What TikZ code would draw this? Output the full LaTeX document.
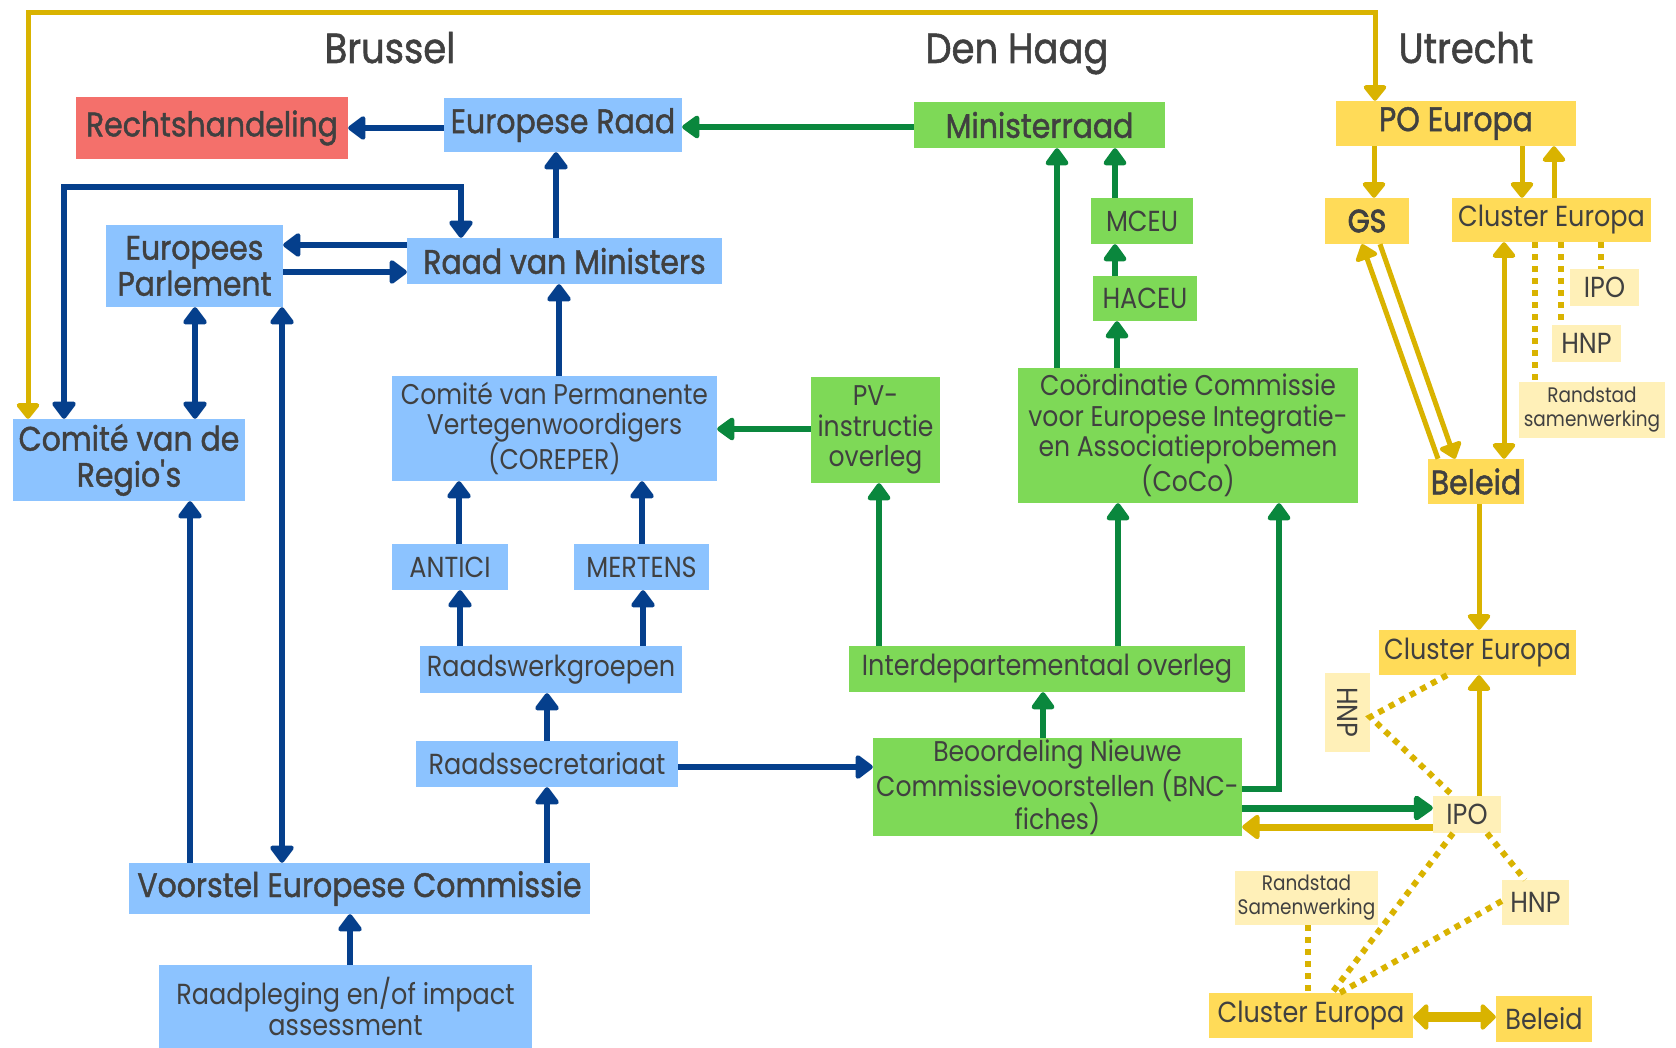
\documentclass[tikz,border=0pt]{standalone}
\usepackage{fontspec}
\setmainfont{Poppins}[FakeStretch=0.88]
\newfontfamily\medfont{Poppins}[FakeStretch=0.88,FakeBold=1.3]
\newfontfamily\gsfont{Poppins}[FakeStretch=0.88,FakeBold=2.6]
\usetikzlibrary{arrows.meta}
\definecolor{txt}{HTML}{404040}
\definecolor{bbox}{HTML}{8CC3FF}
\definecolor{rbox}{HTML}{F4706B}
\definecolor{gbox}{HTML}{7ED957}
\definecolor{ybox}{HTML}{FFDB58}
\definecolor{lybox}{HTML}{FFF0B8}
\definecolor{bline}{HTML}{053F8C}
\definecolor{gline}{HTML}{0A873D}
\definecolor{yline}{HTML}{D9B300}
\tikzset{
  bnds/.style args={#1,#2,#3,#4}{minimum width={(#2-#1)*1pt}, minimum height={(#4-#3)*1pt}, at={({(#1+#2)/2},{(#3+#4)/2})}},
  boxbase/.style={inner sep=0pt, align=center, text=txt, anchor=center},
  bluebox/.style={boxbase, fill=bbox},
  redbox/.style={boxbase, fill=rbox},
  greenbox/.style={boxbase, fill=gbox},
  yelbox/.style={boxbase, fill=ybox},
  lyelbox/.style={boxbase, fill=lybox},
  fL/.style={font=\medfont\fontsize{34}{36}\selectfont},
  fM/.style={font=\fontsize{29}{31}\selectfont},
  fS/.style={font=\fontsize{28.5}{30.5}\selectfont},
  fT/.style={font=\fontsize{21}{24}\selectfont},
  titletext/.style={inner sep=0pt, text=txt, anchor=base, font=\medfont\fontsize{42}{46}\selectfont},
  bt/.tip={Triangle[width=27pt,length=19pt,round]},
  gt/.tip={Triangle[width=26pt,length=19pt,round]},
  gtb/.tip={Triangle[width=28pt,length=21pt,round]},
  yt/.tip={Triangle[width=26pt,length=17pt,round]},
  ytb/.tip={Triangle[width=28pt,length=19pt,round]},
  ytc/.tip={Triangle[width=30pt,length=16pt,round]},
  bl/.style={draw=bline, line width=6pt},
  gl/.style={draw=gline, line width=5.5pt},
  yl/.style={draw=yline, line width=5pt},
  yd/.style={draw=yline, line width=6pt, dash pattern=on 6pt off 6pt},
}
\begin{document}
\begin{tikzpicture}[x=1pt,y=-1pt]
\fill[white] (0,0) rectangle (1676,1048);
\useasboundingbox (0,0) rectangle (1676,1048);

% titles
\node[titletext] (tbr) at (390,63) {Brussel};
\node[titletext] (tdh) at (1017,63) {Den Haag};
\node[titletext] (tut) at (1466,63) {Utrecht};

% Brussel
\node[redbox,fL,bnds={76,348,97,159}] (rech) {Rechtshandeling};
\node[bluebox,fL,bnds={444,682,98,152}] (eraad) {Europese Raad};
\node[bluebox,fL,bnds={106,283,225,307}] (ep) {Europees\\Parlement};
\node[bluebox,fL,bnds={407,722,238,284}] (rvm) {Raad van Ministers};
\node[bluebox,fL,bnds={13,245,419,501}] (cvdr) {Comité van de\\Regio\textquotesingle s};
\node[bluebox,fS,bnds={392,717,376,481}] (corep) {Comité van Permanente\\Vertegenwoordigers\\(COREPER)};
\node[bluebox,fM,bnds={392,508,544,590}] (antici) {ANTICI};
\node[bluebox,fM,bnds={574,709,544,590}] (mert) {MERTENS};
\node[bluebox,fM,bnds={420,682,646,693}] (rwg) {Raadswerkgroepen};
\node[bluebox,fM,bnds={416,678,741,787}] (rs) {Raadssecretariaat};
\node[bluebox,fL,bnds={129,590,863,914}] (vec) {Voorstel Europese Commissie};
\node[bluebox,fM,bnds={159,532,965,1048}] (raadpl) {Raadpleging en/of impact\\assessment};

% Den Haag
\node[greenbox,fL,bnds={914,1165,102,148}] (minr) {Ministerraad};
\node[greenbox,fM,bnds={1091,1193,198,244}] (mceu) {MCEU};
\node[greenbox,fM,bnds={1093,1197,276,321}] (haceu) {HACEU};
\node[greenbox,fS,bnds={1018,1358,368,503}] (coco) {Coördinatie Commissie\\voor Europese Integratie-\\en Associatieprobemen\\(CoCo)};
\node[greenbox,fS,bnds={811,940,377,483}] (pv) {PV-\\instructie\\overleg};
\node[greenbox,fM,bnds={849,1245,646,692}] (io) {Interdepartementaal overleg};
\node[greenbox,fS,bnds={873,1242,738,836}] (bnc) {Beoordeling Nieuwe\\Commissievoorstellen (BNC-\\fiches)};

% Utrecht
\node[yelbox,fL,bnds={1336,1576,101,146}] (po) {PO Europa};
\node[yelbox,font=\gsfont\fontsize{32}{36}\selectfont,bnds={1325,1409,198,244}] (gs) {GS};
\node[yelbox,fM,bnds={1452,1651,198,242}] (cl1) {Cluster Europa};
\node[yelbox,fL,bnds={1428,1524,459,504}] (bel1) {Beleid};
\node[yelbox,fM,bnds={1379,1576,630,675}] (cl2) {Cluster Europa};
\node[yelbox,fM,bnds={1209,1413,993,1038}] (cl3) {Cluster Europa};
\node[yelbox,fM,bnds={1496,1592,996,1042}] (bel2) {Beleid};
\node[lyelbox,fM,bnds={1570,1639,269,306}] (ipo1) {IPO};
\node[lyelbox,fM,bnds={1552,1621,325,362}] (hnp1) {HNP};
\node[lyelbox,fT,bnds={1519,1665,382,438}] (rand1) {Randstad\\samenwerking};
\node[lyelbox,fM,bnds={1433,1501,796,833}] (ipo2) {IPO};
\node[lyelbox,fM,bnds={1325,1370,673,752}] (hnp2) {\rotatebox{-90}{HNP}};
\node[lyelbox,fM,bnds={1502,1569,880,925}] (hnp3) {HNP};
\node[lyelbox,fT,bnds={1235,1378,871,925}] (rand2) {Randstad\\Samenwerking};

% blue connectors
\coordinate (loopa) at (64,187);
\draw[bl,-bt] (eraad.west |- 0,128) -- (rech.east |- 0,128);
\draw[bl,-bt] (rvm.north -| 556,0) -- (eraad.south -| 556,0);
\draw[bl,bt-bt] (cvdr.north -| 64,0) -- (loopa) -| (rvm.north -| 461,0);
\draw[bl,-bt] (rvm.west |- 0,245) -- (ep.east |- 0,245);
\draw[bl,-bt] (ep.east |- 0,272) -- (rvm.west |- 0,272);
\draw[bl,bt-bt] (ep.south -| 195,0) -- (cvdr.north -| 195,0);
\draw[bl,bt-bt] (ep.south -| 282,0) -- (vec.north -| 282,0);
\draw[bl,-bt] (vec.north -| 190,0) -- (cvdr.south -| 190,0);
\draw[bl,-bt] (corep.north -| 559,0) -- (rvm.south -| 559,0);
\draw[bl,-bt] (antici.north -| 459,0) -- (corep.south -| 459,0);
\draw[bl,-bt] (mert.north -| 642,0) -- (corep.south -| 642,0);
\draw[bl,-bt] (rwg.north -| 460,0) -- (antici.south -| 460,0);
\draw[bl,-bt] (rwg.north -| 643,0) -- (mert.south -| 643,0);
\draw[bl,-bt] (rs.north -| 547,0) -- (rwg.south -| 547,0);
\draw[bl,-bt] (vec.north -| 547,0) -- (rs.south -| 547,0);
\draw[bl,-bt] (raadpl.north -| 350,0) -- (vec.south -| 350,0);
\draw[bl,-bt] (rs.east |- 0,767) -- (bnc.west |- 0,767);

% green connectors
\draw[gl,-gt] (minr.west |- 0,127) -- (eraad.east |- 0,127);
\draw[gl,-gt] (coco.north -| 1057,0) -- (minr.south -| 1057,0);
\draw[gl,-gt] (mceu.north -| 1115,0) -- (minr.south -| 1115,0);
\draw[gl,-gt] (haceu.north -| 1115,0) -- (mceu.south -| 1115,0);
\draw[gl,-gt] (coco.north -| 1117,0) -- (haceu.south -| 1117,0);
\draw[gl,-gt] (pv.west |- 0,429) -- (corep.east |- 0,429);
\draw[gl,-gt] (io.north -| 879,0) -- (pv.south -| 879,0);
\draw[gl,-gt] (io.north -| 1118,0) -- (coco.south -| 1118,0);
\draw[gl,-gt] (bnc.north -| 1043,0) -- (io.south -| 1043,0);
\draw[gl,-gt] (bnc.east |- 0,789) -| (coco.south -| 1279,0);
\draw[gl,line width=7pt,-gtb] (bnc.east |- 0,808) -- (ipo2.west |- 0,808);

% yellow connectors
\coordinate (ytop) at (28,13);
\draw[yl,yt-yt] (po.north -| 1375,0) |- (ytop) -- (cvdr.north -| 28,0);
\draw[yl,-yt] (po.south -| 1374,0) -- (gs.north -| 1374,0);
\draw[yl,-yt] (po.south -| 1522,0) -- (cl1.north -| 1522,0);
\draw[yl,-yt] (cl1.north -| 1554,0) -- (po.south -| 1554,0);
\draw[yl,-yt] (bel1.north -| 1438,0) -- (gs.south -| 1362,0);
\draw[yl,-yt] (gs.south -| 1380,0) -- (bel1.north -| 1455,0);
\draw[yl,yt-yt] (cl1.south -| 1504,0) -- (bel1.north -| 1504,0);
\draw[yl,-yt] (bel1.south -| 1479,0) -- (cl2.north -| 1479,0);
\draw[yl,-yt] (ipo2.north -| 1479,0) -- (cl2.south -| 1479,0);
\draw[yl,line width=7pt,-ytb] (ipo2.west |- 0,827) -- (bnc.east |- 0,827);
\draw[yl,line width=10pt,ytc-ytc] (cl3.east |- 0,1017) -- (bel2.west |- 0,1017);

% dotted connectors
\draw[yd] (cl1.south -| 1535,0) -- (rand1.north -| 1535,0);
\draw[yd] (cl1.south -| 1561,0) -- (hnp1.north -| 1561,0);
\draw[yd] (cl1.south -| 1601,0) -- (ipo1.north -| 1601,0);
\draw[yd] (cl2.south -| 1447,0) -- (hnp2.east |- 0,717) -- (ipo2.north -| 1453,0);
\draw[yd] (ipo2.south -| 1453,0) -- (cl3.north -| 1332,0);
\draw[yd] (ipo2.south -| 1487,0) -- (hnp3.north -| 1525,0);
\draw[yd] (hnp3.west |- 0,901) -- (cl3.north -| 1340,0);
\draw[yd] (rand2.south -| 1308,0) -- (cl3.north -| 1308,0);
\end{tikzpicture}
\end{document}
